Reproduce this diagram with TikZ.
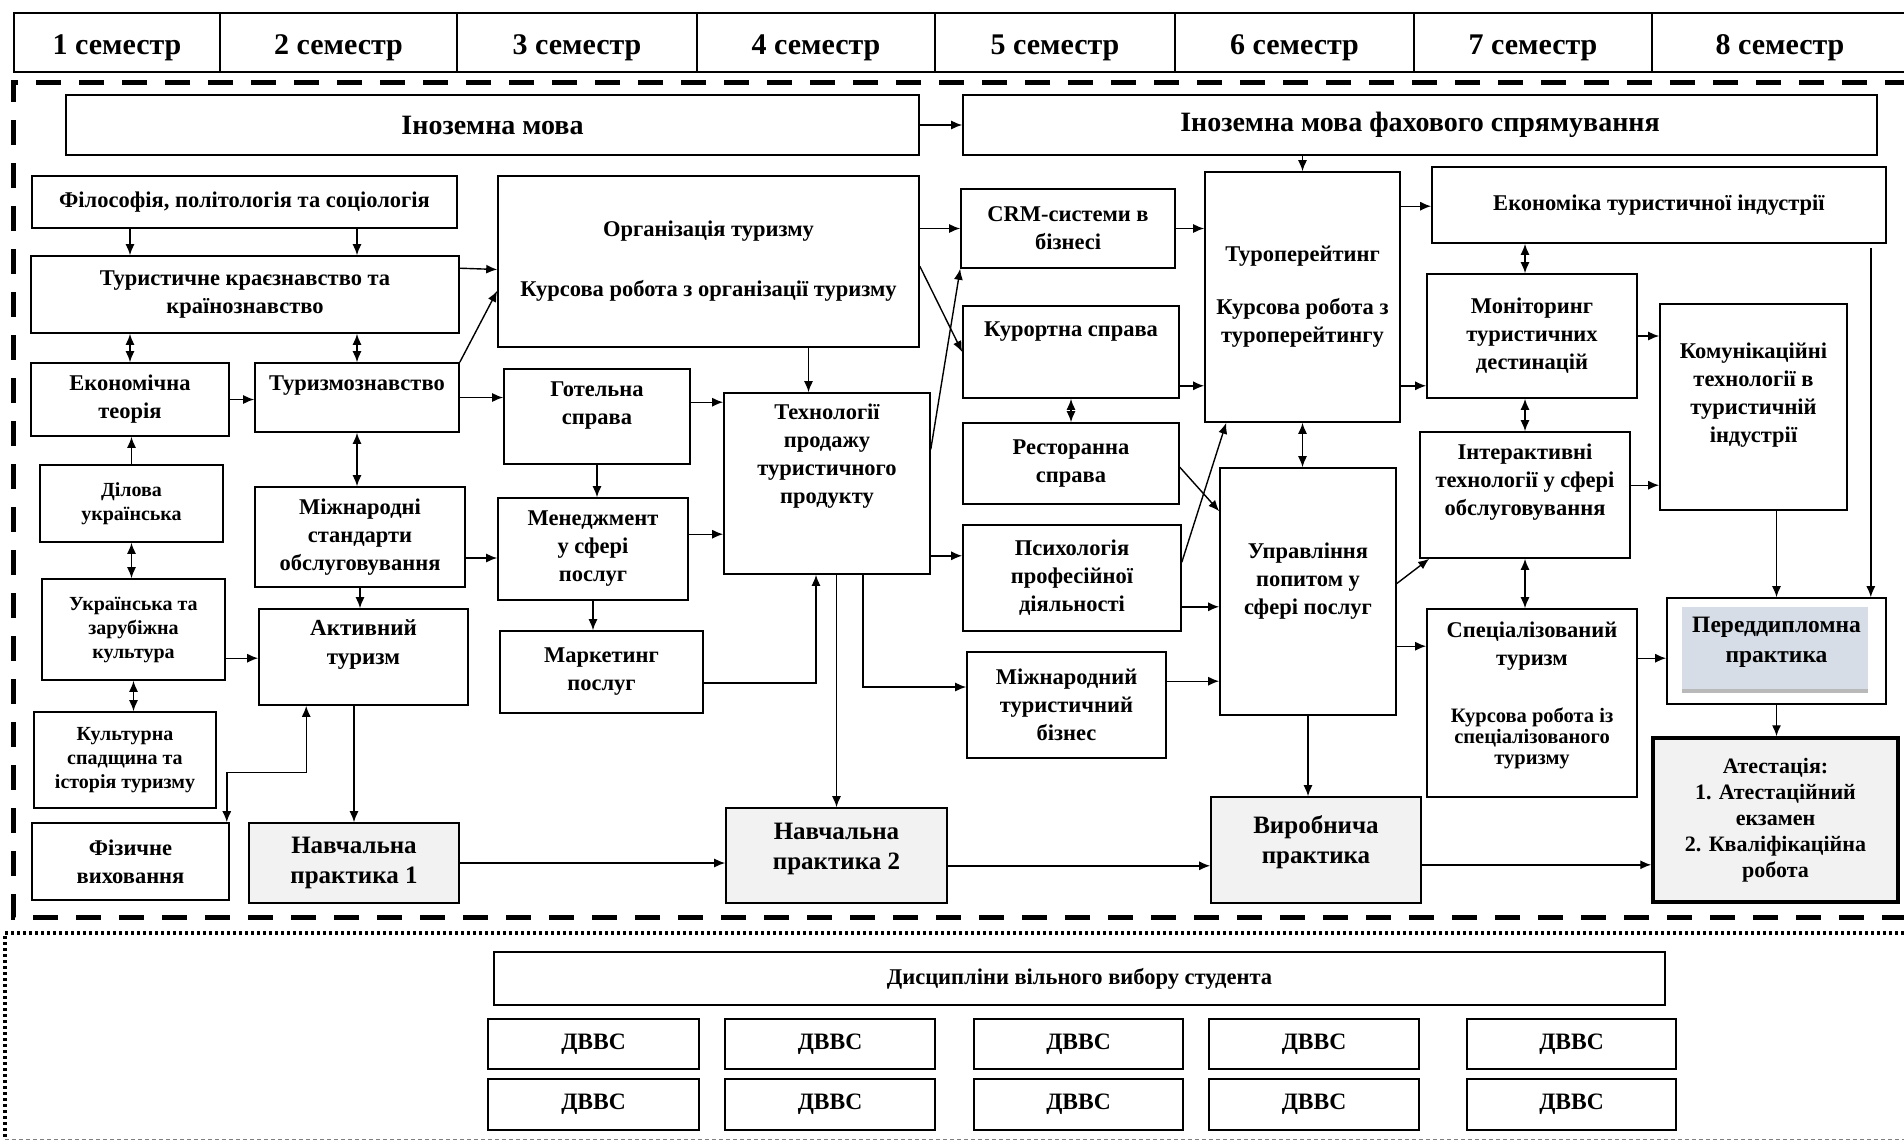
\documentclass[tikz,border=0pt]{standalone}
\usepackage{fontspec}
\setmainfont{Liberation Serif}
\usetikzlibrary{calc}
\usetikzlibrary{arrows.meta}
\definecolor{peredfill}{RGB}{214,221,230}
\newcommand{\kursfont}{\fontsize{20.5}{24}\selectfont}
\tikzset{
        corners/.style n args={4}{at={({(#1+#3)/2},{(#2+#4)/2})}, minimum width={#3-#1}, minimum height={#4-#2}},
        blok/.style={draw, line width=1.6pt, inner sep=0pt, align=center,
          font=\fontsize{22.5}{28}\selectfont\bfseries},
        bigtxt/.style={font=\fontsize{25}{30}\selectfont\bfseries},
        smalltxt/.style={font=\fontsize{20}{24}\selectfont\bfseries},
        headtxt/.style={font=\fontsize{28}{32}\selectfont\bfseries},
        practice/.style={blok, bigtxt, fill=gray!10},
        liftup/.style={text depth=#1}, % pushes the text towards the top of the box
        link/.style={line width=1.4pt, -{Latex[length=11pt,width=9pt]}},
        twoway/.style={line width=1.4pt, {Latex[length=11pt,width=9pt]}-{Latex[length=11pt,width=9pt]}},
        bigdash/.style={line width=5pt, dash pattern=on 25pt off 18pt},
        dotline/.style={line width=3.5pt, dash pattern=on 3pt off 3pt},
        thindash/.style={line width=0.8pt, gray, dash pattern=on 4pt off 3pt},
}

\begin{document}
\begin{tikzpicture}[x=1pt, y=-1pt]
      \useasboundingbox (0,0) rectangle (1904,1141);
      % FRAMES
      \draw[bigdash] (1910,82) -| (13,917) -- (1910,917);
      \draw[dotline] (1910,933) -| (5,1139);
      \draw[thindash] (5,1139) -- (1910,1139);

      % SEMESTERS
      \foreach \a/\b/\n in {14/220/1, 220/457/2, 457/697/3, 697/935/4, 935/1175/5, 1175/1414/6, 1414/1652/7, 1652/1908/8}
        \node[blok, font=\fontsize{30}{34}\selectfont\bfseries, text height=31pt, corners={\a}{13}{\b}{72}] (sem\n) {\n\ семестр};

      % FOREIGN LANGUAGE
      \node[blok, headtxt, corners={66}{95}{919}{155}] (ino) {Іноземна мова};
      \node[blok, headtxt, corners={963}{95}{1877}{155}] (inofah) {Іноземна мова фахового спрямування};

      % SEMESTER 1-2
      \node[blok, corners={32}{176}{457}{228}] (filos) {Філософія, політологія та соціологія};
      \node[blok, corners={31}{256}{459}{333}] (krajezn) {Туристичне краєзнавство та\\країнознавство};
      \node[blok, corners={31}{363}{229}{436}] (ekteor) {Економічна\\теорія};
      \node[blok, liftup=29pt, corners={255}{363}{459}{432}] (turzn) {Туризмознавство};
      \node[blok, smalltxt, corners={40}{465}{223}{542}] (dilova) {Ділова\\українська};
      \node[blok, smalltxt, corners={42}{579}{225}{680}] (ukrkult) {Українська та\\зарубіжна\\культура};
      \node[blok, smalltxt, corners={34}{712}{216}{808}] (kultsp) {Культурна\\спадщина та\\історія туризму};
      \node[blok, corners={32}{823}{229}{900}] (fizvyh) {Фізичне\\виховання};
      \node[blok, corners={255}{487}{465}{587}] (mizhst) {Міжнародні\\стандарти\\обслуговування};
      \node[blok, font=\fontsize{23}{29}\selectfont\bfseries, liftup=30pt, corners={259}{609}{468}{705}] (aktyv) {Активний\\туризм};
      \node[practice, corners={249}{823}{459}{903}] (navch1) {Навчальна\\практика 1};

      % SEMESTER 3-4
      \node[blok, corners={498}{176}{919}{347}] (orgtur) {Організація туризму\\[32pt]Курсова робота з організації туризму};
      \node[blok, liftup=27pt, corners={504}{369}{690}{464}] (gotel) {Готельна\\справа};
      \node[blok, corners={498}{498}{688}{600}] (menedzh) {Менеджмент\\у сфері\\послуг};
      \node[blok, corners={500}{631}{703}{713}] (market) {Маркетинг\\послуг};
      \node[blok, liftup=59pt, corners={724}{393}{930}{574}] (tehnprod) {Технології\\продажу\\туристичного\\продукту};
      \node[practice, liftup=17.5pt, corners={726}{808}{947}{903}] (navch2) {Навчальна\\практика 2};

      % SEMESTER 5-6
      \node[blok, corners={961}{189}{1175}{268}] (crm) {CRM-системи в\\бізнесі};
      \node[blok, liftup=45pt, corners={963}{306}{1179}{398}] (kurort) {Курортна справа};
      \node[blok, corners={963}{423}{1179}{504}] (restor) {Ресторанна\\справа};
      \node[blok, corners={963}{525}{1181}{631}] (psyh) {Психологія\\професійної\\діяльності};
      \node[blok, corners={967}{652}{1166}{758}] (mizhbiz) {Міжнародний\\туристичний\\бізнес};
      \node[blok, corners={1205}{172}{1400}{422}] (turop) {Туроперейтинг\\[25pt]Курсова робота з\\туроперейтингу};
      \node[blok, liftup=25pt, corners={1220}{468}{1396}{715}] (upravl) {Управління\\попитом у\\сфері послуг};
      \node[practice, liftup=21.5pt, corners={1211}{797}{1421}{903}] (vyrob) {Виробнича\\практика};

      % SEMESTER 7-8
      \node[blok, corners={1432}{167}{1886}{243}] (ekind) {Економіка туристичної індустрії};
      \node[blok, corners={1427}{274}{1637}{398}] (monit) {Моніторинг\\туристичних\\дестинацій};
      \node[blok, liftup=29pt, corners={1660}{304}{1847}{510}] (komun) {Комунікаційні\\технології в\\туристичній\\індустрії};
      \node[blok, liftup=31pt, corners={1420}{432}{1630}{558}] (interakt) {Інтерактивні\\технології у сфері\\обслуговування};
      \node[blok, liftup=20pt, corners={1427}{609}{1637}{797}] (spectur) {Спеціалізований\\туризм\\[29pt]\kursfont Курсова робота із\\[-7pt]\kursfont спеціалізованого\\[-7pt]\kursfont туризму};
      \node[blok, font=\fontsize{23.5}{30}\selectfont\bfseries, liftup=22pt, corners={1667}{598}{1886}{704},
        path picture={
          \fill[peredfill] ($(path picture bounding box.north west)+(15,9)$) rectangle ($(path picture bounding box.south east)+(-18,-11)$);
          \fill[gray!55] ($(path picture bounding box.south west)+(15,-15)$) rectangle ($(path picture bounding box.south east)+(-18,-11)$);
        }] (pered) {Переддипломна\\практика};
      \node[practice, line width=3.5pt, font=\fontsize{22}{26}\selectfont\bfseries, corners={1653}{738}{1898}{902}] (atest) {Атестація:\\1. Атестаційний\\екзамен\\2. Кваліфікаційна\\робота};

      % ELECTIVES
      \node[blok, corners={494}{952}{1665}{1005}] (vilvyb) {Дисципліни вільного вибору студента};
      \foreach \a/\b/\k in {488/699/1, 725/935/2, 974/1183/3, 1209/1419/4, 1467/1676/5} {
        \node[blok, font=\fontsize{23.5}{26}\selectfont\bfseries, corners={\a}{1019}{\b}{1069}] (dv\k a) {ДВВС};
        \node[blok, font=\fontsize{23.5}{26}\selectfont\bfseries, corners={\a}{1079}{\b}{1130}] (dv\k b) {ДВВС};
      }

      % WIRING
      % language
      \draw[link] (ino) -- (inofah);
      \draw[link] (inofah.south -| turop) -- (turop.north);
      % semester 1-2
      \draw[link] (filos.south -| ekteor) -- (krajezn.north -| ekteor);
      \draw[link] (filos.south -| turzn) -- (krajezn.north -| turzn);
      \draw[twoway] (krajezn.south -| ekteor) -- (ekteor.north);
      \draw[twoway] (krajezn.south -| turzn) -- (turzn.north);
      \draw[link] (ekteor.east) -- (ekteor.east -| turzn.west);
      \draw[link] (dilova.north) -- (dilova.north |- ekteor.south);
      \draw[twoway] (dilova.south) -- (dilova.south |- ukrkult.north);
      \draw[twoway] (ukrkult.south) -- (ukrkult.south |- kultsp.north);
      \draw[link] ($(ukrkult.north east)+(0,80)$) coordinate (uk1) -- (uk1 -| aktyv.west);
      \draw[twoway] (turzn.south) -- (turzn.south |- mizhst.north);
      \draw[link] (mizhst.south) -- (mizhst.south |- aktyv.north);
      \draw[link] (aktyv.south -| navch1) -- (navch1.north);
      \draw[twoway] ($(aktyv.south west)+(48,0)$) |- ($(fizvyh.north east)+(-3,-50)$) coordinate (fz1) -- (fz1 |- fizvyh.north);
      \draw[link] (navch1.east) -- (navch1.east -| navch2.west);
      \draw[link] ($(krajezn.north east)+(0,13)$) -- ($(orgtur.west)+(0,8)$);
      \draw[link] (turzn.north east) -- ($(orgtur.south west)+(0,-57)$);
      \draw[link] (turzn.east) -- (turzn.east -| gotel.west);
      \draw[link] ($(mizhst.east)+(0,21)$) coordinate (ms1) -- (ms1 -| menedzh.west);
      % semester 3-4
      \draw[link] ($(orgtur.south)+(100,0)$) coordinate (or1) -- (or1 |- tehnprod.north);
      \draw[link] ($(gotel.north east)+(0,34)$) coordinate (g1) -- (g1 -| tehnprod.west);
      \draw[link] (gotel.south) -- (gotel.south |- menedzh.north);
      \draw[link] ($(menedzh.north east)+(0,37)$) coordinate (mn1) -- (mn1 -| tehnprod.west);
      \draw[link] (menedzh.south) -- (menedzh.south |- market.north);
      \draw[link] ($(market.east)+(0,11)$) -| ($(tehnprod.south)+(-11,0)$);
      \draw[link] (tehnprod.south -| navch2) -- (navch2.north);
      \draw[link] ($(tehnprod.south)+(36,0)$) |- ($(mizhbiz.west)+(0,-18)$);
      \draw[link] ($(tehnprod.south east)+(0,-19)$) coordinate (t1) -- (t1 -| psyh.west);
      \draw[link] ($(tehnprod.north east)+(0,57)$) -- (crm.south west);
      \draw[link] (orgtur.east |- crm) -- (crm.west);
      \draw[link] ($(orgtur.north east)+(0,91)$) -- (kurort.west);
      \draw[link] ($(navch2.south east)+(0,-38)$) coordinate (n2) -- (n2 -| vyrob.west);
      % semester 5-6
      \draw[link] (crm.east) -- (crm.east -| turop.west);
      \draw[link] ($(kurort.south east)+(0,-13)$) coordinate (k1) -- (k1 -| turop.west);
      \draw[twoway] (kurort.south) -- (restor.north);
      \draw[link] ($(restor.north east)+(0,45)$) -- ($(upravl.north west)+(0,44)$);
      \draw[link] ($(psyh.north east)+(0,38)$) -- ($(turop.south west)+(22,0)$);
      \draw[link] ($(psyh.south east)+(0,-25)$) coordinate (p1) -- (p1 -| upravl.west);
      \draw[link] ($(mizhbiz.north east)+(0,30)$) coordinate (m1) -- (m1 -| upravl.west);
      \draw[twoway] (turop.south) -- (turop.south |- upravl.north);
      \draw[link] (upravl.south) -- (upravl.south |- vyrob.north);
      \draw[link] ($(vyrob.south east)+(0,-39)$) coordinate (v1) -- (v1 -| atest.west);
      % semester 7-8
      \draw[link] ($(turop.north east)+(0,35)$) coordinate (r1) -- (r1 -| ekind.west);
      \draw[link] ($(turop.south east)+(0,-37)$) coordinate (r2) -- (r2 -| monit.west);
      \draw[twoway] (ekind.south -| interakt) -- (monit.north -| interakt);
      \draw[link] (monit.east) -- (monit.east -| komun.west);
      \draw[link] ($(ekind.south east)+(-16,4)$) coordinate (e1) -- (e1 |- pered.north);
      \draw[twoway] (monit.south -| interakt) -- (interakt.north);
      \draw[link] ($(upravl.east)+(0,-8)$) -- ($(interakt.south west)+(10,0)$);
      \draw[link] ($(upravl.north east)+(0,179)$) coordinate (u1) -- (u1 -| spectur.west);
      \draw[link] ($(interakt.north east)+(0,54)$) coordinate (i1) -- (i1 -| komun.west);
      \draw[twoway] (interakt.south) -- (interakt.south |- spectur.north);
      \draw[link] ($(spectur.north east)+(0,50)$) coordinate (s1) -- (s1 -| pered.west);
      \draw[link] (komun.south -| pered) -- (pered.north);
      \draw[link] (pered.south) -- (pered.south |- atest.north);
\end{tikzpicture}
\end{document}
